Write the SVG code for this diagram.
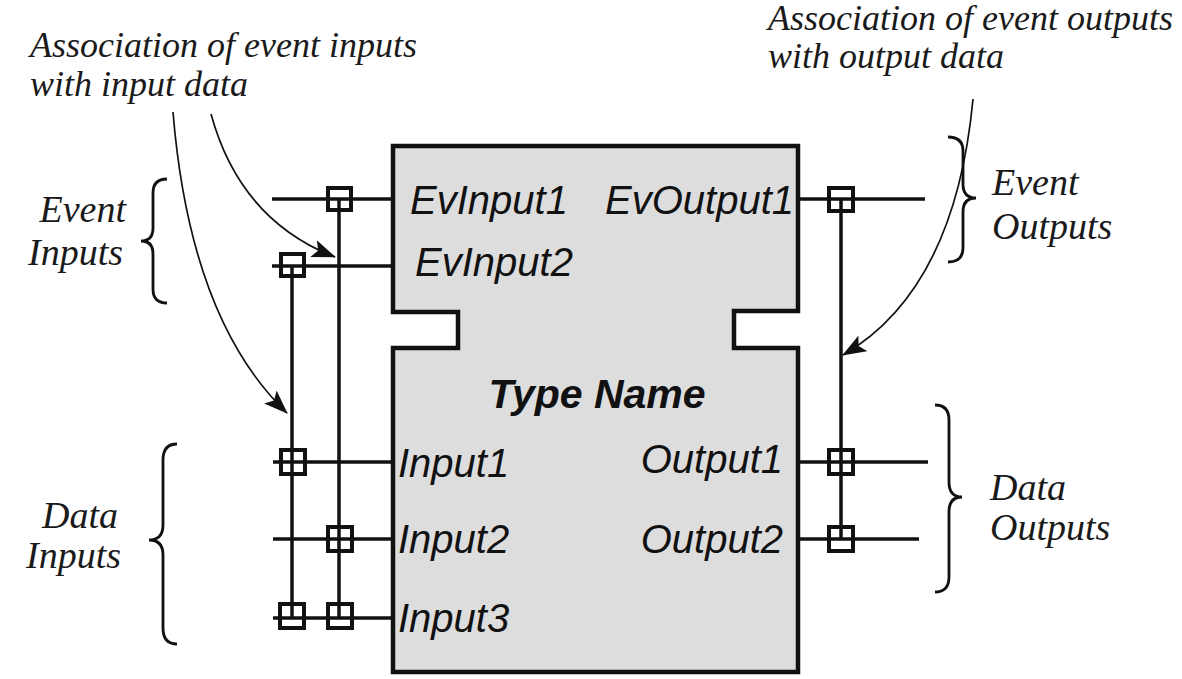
<svg xmlns="http://www.w3.org/2000/svg" width="1182" height="679" viewBox="0 0 1182 679">
<style>
.ann{font-family:"Liberation Serif",serif;font-style:italic;font-size:36px;fill:#1a1a1a}
.lab{font-family:"Liberation Serif",serif;font-style:italic;font-size:38px;fill:#1a1a1a}
.sans{font-family:"Liberation Sans",sans-serif;font-style:italic;font-size:40px;fill:#111}
.wire{stroke:#111;stroke-width:3.5;fill:none}
.jn{stroke:#111;stroke-width:4;fill:none}
.arrow{stroke:#111;stroke-width:1.7;fill:none;marker-end:url(#ah)}
.brace{stroke:#111;stroke-width:2.8;fill:none}
</style>
<defs>
<marker id="ah" markerUnits="userSpaceOnUse" viewBox="0 0 24 18" refX="23" refY="9" markerWidth="24" markerHeight="18" orient="auto">
<path d="M0,0 L24,9 L0,18 L5,9 Z" fill="#111"/>
</marker>
</defs>
<rect width="1182" height="679" fill="#fff"/>

<g id="block">
<path d="M393,146 H798 V311 H734 V348 H798 V672 H393 V348 H458 V312 H393 Z" fill="#dddddd" stroke="#111" stroke-width="4.5"/>
<text class="sans" x="410" y="214">EvInput1</text>
<text class="sans" x="415" y="276">EvInput2</text>
<text class="sans" x="794" y="214" text-anchor="end">EvOutput1</text>
<text class="sans" x="597" y="408" text-anchor="middle" font-weight="bold" style="font-size:41px">Type Name</text>
<text class="sans" x="398" y="477">Input1</text>
<text class="sans" x="398" y="553">Input2</text>
<text class="sans" x="398" y="632">Input3</text>
<text class="sans" x="783" y="473" text-anchor="end">Output1</text>
<text class="sans" x="783" y="553" text-anchor="end">Output2</text>
</g>

<g id="connectors">
<line class="wire" x1="272" y1="199" x2="393" y2="199"/>
<line class="wire" x1="272" y1="266" x2="393" y2="266"/>
<line class="wire" x1="273" y1="462" x2="393" y2="462"/>
<line class="wire" x1="273" y1="539" x2="393" y2="539"/>
<line class="wire" x1="273" y1="618" x2="393" y2="618"/>
<line class="wire" x1="292" y1="265" x2="292" y2="618"/>
<line class="wire" x1="339" y1="199" x2="339" y2="618"/>
<line class="wire" x1="798" y1="199" x2="925" y2="199"/>
<line class="wire" x1="798" y1="462" x2="928" y2="462"/>
<line class="wire" x1="798" y1="539" x2="919" y2="539"/>
<line class="wire" x1="841" y1="199" x2="841" y2="539"/>
</g>

<g id="junctions">
<rect class="jn" x="328" y="188" width="23" height="22"/>
<rect class="jn" x="281" y="254" width="23" height="22"/>
<rect class="jn" x="281" y="450" width="24" height="24"/>
<rect class="jn" x="328" y="527" width="24" height="24"/>
<rect class="jn" x="280" y="604" width="24" height="24"/>
<rect class="jn" x="328" y="604" width="24" height="24"/>
<rect class="jn" x="829" y="188" width="24" height="23"/>
<rect class="jn" x="829" y="450" width="24" height="24"/>
<rect class="jn" x="829" y="527" width="24" height="24"/>
</g>

<g id="annotation-inputs">
<text class="ann" x="30" y="57">Association of event inputs</text>
<text class="ann" x="30" y="96">with input data</text>
<path class="arrow" d="M173,112 Q190,320 287,413"/>
<path class="arrow" d="M211,114 Q240,220 335,257"/>
</g>

<g id="annotation-outputs">
<text class="ann" x="768" y="30">Association of event outputs</text>
<text class="ann" x="768" y="68">with output data</text>
<path class="arrow" d="M973,99 Q955,290 843,355"/>
</g>

<g id="event-inputs-label">
<path class="brace" d="M167,179 Q153,179 153,193 V228 Q153,241 141,241 Q153,241 153,254 V289 Q153,303 167,303"/>
<text class="lab" x="126" y="222" text-anchor="end">Event</text>
<text class="lab" x="123" y="265" text-anchor="end">Inputs</text>
</g>

<g id="data-inputs-label">
<path class="brace" d="M177,444 Q163,444 163,460 V525 Q163,540 149,540 Q163,540 163,555 V628 Q163,644 177,644"/>
<text class="lab" x="118" y="528" text-anchor="end">Data</text>
<text class="lab" x="121" y="568" text-anchor="end">Inputs</text>
</g>

<g id="event-outputs-label">
<path class="brace" d="M948,137 Q963,137 963,151 V184 Q963,198 976,198 Q963,198 963,212 V248 Q963,262 948,262"/>
<text class="lab" x="992" y="195">Event</text>
<text class="lab" x="992" y="239">Outputs</text>
</g>

<g id="data-outputs-label">
<path class="brace" d="M935,405 Q949,405 949,420 V482 Q949,497 962,497 Q949,497 949,512 V577 Q949,592 935,592"/>
<text class="lab" x="990" y="500">Data</text>
<text class="lab" x="990" y="540">Outputs</text>
</g>
</svg>
